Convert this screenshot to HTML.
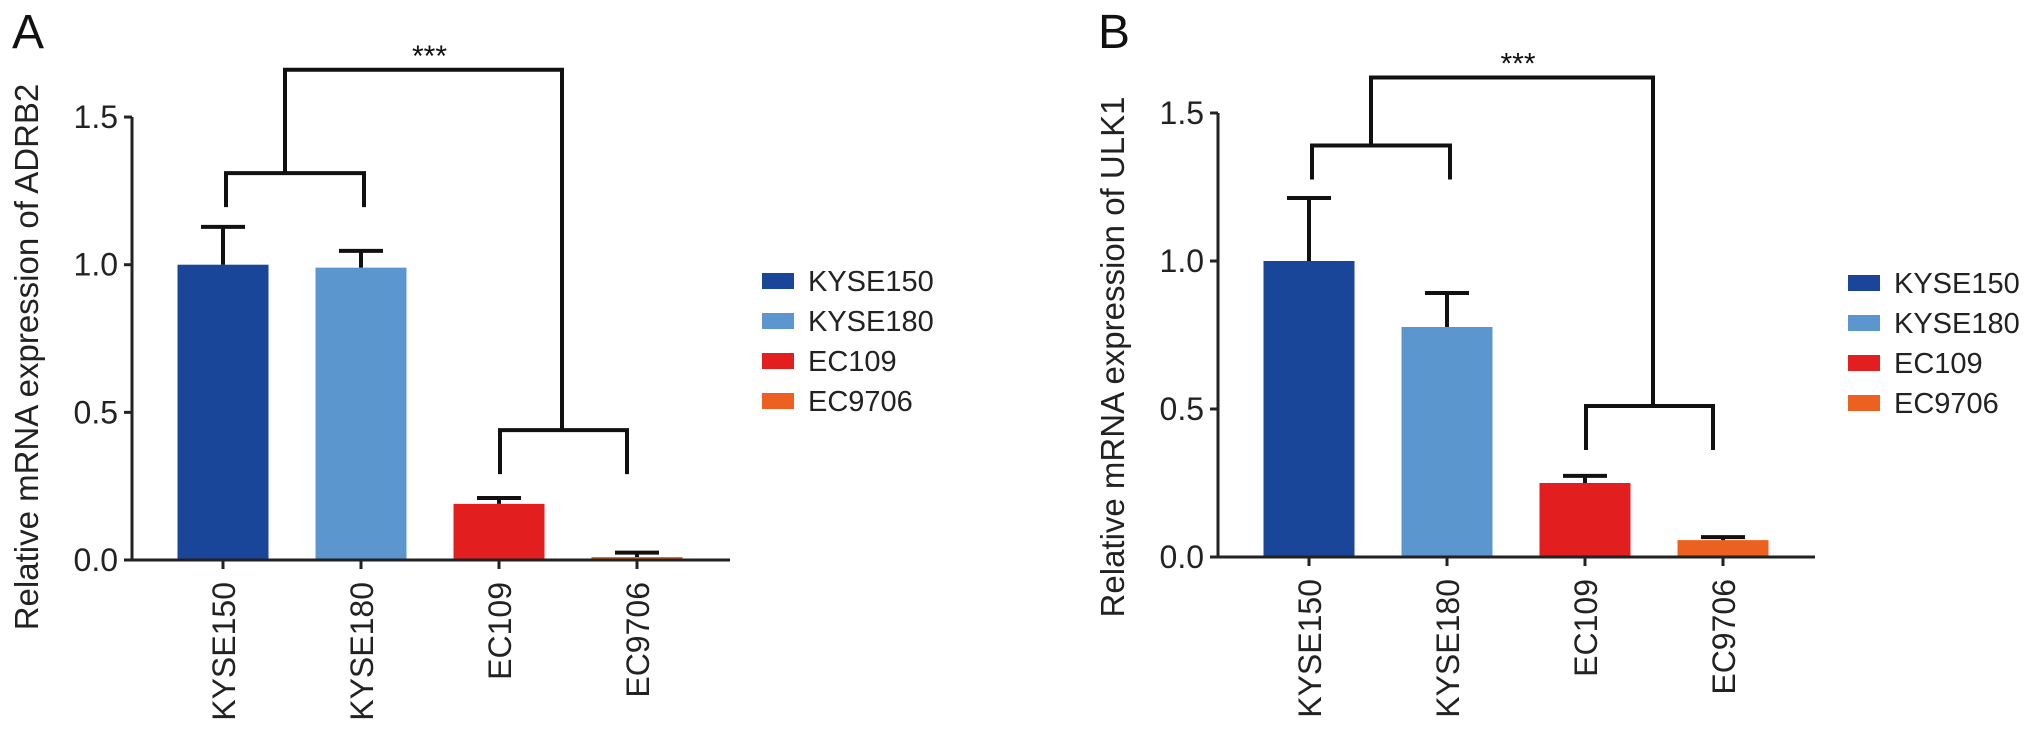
<!DOCTYPE html>
<html><head><meta charset="utf-8"><style>
html,body{margin:0;padding:0;background:#fff;}
svg{display:block;font-family:"Liberation Sans",Arial,sans-serif;}
</style></head><body>
<svg id="fig" width="2032" height="738" viewBox="0 0 2032 738" xmlns="http://www.w3.org/2000/svg"></svg>
<script>
const categories = ["KYSE150","KYSE180","EC109","EC9706"];
const colors = ["#1a4699","#5b96cf","#e31e1e","#ec6120"];
const valuesA = [1.0, 0.99, 0.19, 0.01];
const errorsA = [1.128, 1.047, 0.21, 0.025];
const valuesB = [1.0, 0.777, 0.25, 0.057];
const errorsB = [1.213, 0.892, 0.274, 0.067];
const yTicks = [0.0, 0.5, 1.0, 1.5];
const yTickLabels = ["0.0","0.5","1.0","1.5"];
// bracket heights in data units: left group, right group, top
const bracketsA = [1.31, 0.44, 1.66];
const bracketsB = [1.39, 0.51, 1.62];

const NS = "http://www.w3.org/2000/svg";
const svg = document.getElementById('fig');
function mk(tag, attrs, parent){
  const e = document.createElementNS(NS, tag);
  for (const k in attrs) e.setAttribute(k, attrs[k]);
  (parent||svg).appendChild(e);
  return e;
}

function panel(opts){
  const g = mk('g', {});
  
  
  const ox = opts.ox, y0 = opts.y0, yScale = opts.yScale;
  const axisX = 132 + ox;
  const yOf = v => y0 - v * yScale;
  const xOf = i => 223 + ox + i * 138;
  const bw = 91;

  const lt = mk('text', {x: 12 + ox, y: 48, 'font-size': 48, fill: '#111'}, g);
  lt.textContent = opts.letter;
  
  

  // bars
  opts.values.forEach((v, i) => {
    const r = mk('rect', {x: xOf(i) - bw/2, y: yOf(v), width: bw, height: y0 - yOf(v), fill: colors[i]}, g);
    
    
    const e = opts.errors[i];
    const eg = mk('path', {d: `M${xOf(i)},${yOf(v)} V${yOf(e)} M${xOf(i)-22},${yOf(e)} H${xOf(i)+22}`, stroke: '#111', 'stroke-width': 4, fill: 'none'}, g);
    
    
  });

  // axes
  const ya = mk('path', {d: `M${axisX},${y0} V${yOf(1.5)}`, stroke: '#222', 'stroke-width': 3, fill: 'none'}, g);
  
  
  const xa = mk('path', {d: `M${axisX-7},${y0} H${ox+ (opts.letter==='A'?730:729)}`, stroke: '#222', 'stroke-width': 3, fill: 'none'}, g);
  
  

  yTicks.forEach((t, i) => {
    mk('path', {d: `M${axisX-8},${yOf(t)} H${axisX}`, stroke: '#222', 'stroke-width': 3}, g);
    const tx = mk('text', {x: axisX - 14, y: yOf(t) + 11, 'font-size': 32, 'text-anchor': 'end', fill: '#222'}, g);
    tx.textContent = yTickLabels[i];
    
    
  });

  categories.forEach((c, i) => {
    mk('path', {d: `M${xOf(i)},${y0} V${y0+9}`, stroke: '#222', 'stroke-width': 3}, g);
    const tx = mk('text', {x: 0, y: 0, 'font-size': 32, 'text-anchor': 'end', fill: '#222',
      transform: `translate(${xOf(i)+12},${y0+22}) rotate(-90)`}, g);
    tx.textContent = c;
    
    
  });

  const yt = mk('text', {x: 0, y: 0, 'font-size': 33, 'text-anchor': 'middle', fill: '#222',
    transform: `translate(${38+ox},357) rotate(-90)`}, g);
  yt.textContent = opts.title;
  
  

  // significance brackets
  const bl = yOf(opts.brackets[0]), br = yOf(opts.brackets[1]), bt = yOf(opts.brackets[2]);
  const lx1 = xOf(0)+3, lx2 = xOf(1)+3, rx1 = xOf(2)+1, rx2 = xOf(3)-10;
  const lmid = 285 + ox, rmid = 562 + ox + (opts.letter==='B'?5:0);
  const bp = mk('path', {d:
    `M${lx1},${bl+34} V${bl} H${lx2} V${bl+34} ` +
    `M${rx1},${br+44} V${br} H${rx2} V${br+44} ` +
    `M${lmid},${bl} V${bt} H${rmid} V${br}`,
    stroke: '#111', 'stroke-width': 4, fill: 'none', 'stroke-linejoin': 'miter'}, g);
  
  
  const st = mk('text', {x: (lmid + rmid)/2 + 6, y: bt - 4, 'font-size': 30, 'text-anchor': 'middle', fill: '#111'}, g);
  st.textContent = '***';
  
  

  // legend
  const lg = mk('g', {}, g);
  
  
  categories.forEach((c, i) => {
    const y = 281 + opts.legDy + i * 40;
    const e = mk('g', {}, lg);
    
    
    mk('rect', {x: 762 + ox, y: y - 8, width: 32, height: 16, fill: colors[i]}, e);
    const t = mk('text', {x: 808 + ox, y: y + 10, 'font-size': 29, fill: '#222'}, e);
    t.textContent = c;
  });
}

panel({letter: 'A', ox: 0, y0: 560, yScale: 295.3, values: valuesA, errors: errorsA, brackets: bracketsA,
  title: 'Relative mRNA expression of ADRB2', legDy: 0});
panel({letter: 'B', ox: 1086, y0: 557, yScale: 296, values: valuesB, errors: errorsB, brackets: bracketsB,
  title: 'Relative mRNA expression of ULK1', legDy: 2});
</script>
</body></html>
